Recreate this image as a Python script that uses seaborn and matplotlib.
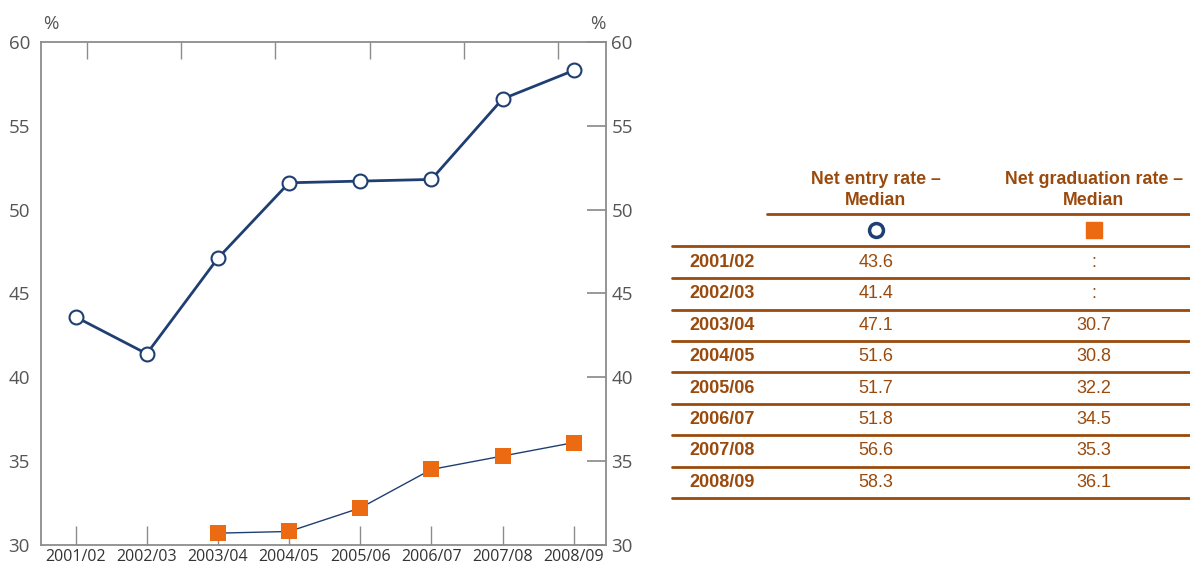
import numpy as np
import pandas as pd
import seaborn as sns
from matplotlib import pyplot as plt

years = ['2001/02', '2002/03', '2003/04', '2004/05', '2005/06', '2006/07', '2007/08', '2008/09']
entry = [43.6, 41.4, 47.1, 51.6, 51.7, 51.8, 56.6, 58.3]
graduation = [np.nan, np.nan, 30.7, 30.8, 32.2, 34.5, 35.3, 36.1]
col_titles = ['Net entry rate –\nMedian', 'Net graduation rate –\nMedian']

navy = '#1f3f73'
orange = '#ec6a12'
brown = '#9a4a0c'
grey = '#555555'
spine = '#8c8c8c'

sns.set_theme(style='white')
plt.rcParams['font.family'] = ['Open Sans', 'DejaVu Sans']

df = pd.DataFrame({'pos': np.arange(len(years)), 'year': years,
                   'entry': entry, 'graduation': graduation})

fig = plt.figure(figsize=(11.9, 5.67), dpi=100)
ax = fig.add_axes([0.0345, 0.039, 0.4745, 0.887])

sns.lineplot(data=df, x='pos', y='entry', ax=ax, color=navy, linewidth=2,
             marker='o', markersize=10, markerfacecolor='white',
             markeredgecolor=navy, markeredgewidth=1.5)
sns.lineplot(data=df.dropna(), x='pos', y='graduation', ax=ax, color=navy, linewidth=1,
             marker='s', markersize=11, markerfacecolor=orange,
             markeredgecolor=orange, markeredgewidth=0)

ax.set_xlim(-0.485, 7.45)
ax.set_ylim(30, 60)
ax.set_xticks(df['pos'])
ax.set_xticklabels(years, fontsize=11.5, color='#333333')
ax.set_yticks([30, 35, 40, 45, 50, 55, 60])
ax.tick_params(axis='y', labelsize=13.5, colors=grey, length=0, pad=8)
ax.tick_params(axis='x', direction='in', length=14, color=spine, width=1, pad=3)
for lab in ax.get_yticklabels():
    lab.set_color(grey)
ax.set_xlabel('')
ax.set_ylabel('')
for s in ax.spines.values():
    s.set_color(spine)
    s.set_linewidth(1.3)

# right-hand axis
ax2 = ax.twinx()
ax2.set_ylim(30, 60)
ax2.set_yticks([30, 35, 40, 45, 50, 55, 60])
ax2.tick_params(axis='y', direction='in', length=14, color=spine, labelsize=13.5,
                labelcolor=grey, pad=4)
for s in ax2.spines.values():
    s.set_visible(False)

# top ticks
ax3 = ax.twiny()
ax3.set_xlim(0, 1)
ax3.set_xticks(np.linspace(0.082, 0.915, 6))
ax3.set_xticklabels([])
ax3.tick_params(axis='x', direction='in', length=12, color=spine, width=1)
for s in ax3.spines.values():
    s.set_visible(False)

fig.text(0.036, 0.948, '%', fontsize=13.5, color=grey)
fig.text(0.496, 0.948, '%', fontsize=13.5, color=grey)

# table on the right
tb = fig.add_axes([0, 0, 1, 1])
tb.set_xlim(0, 1190)
tb.set_ylim(567, 0)
tb.axis('off')
tfont = ['Liberation Sans Narrow', 'Liberation Sans', 'DejaVu Sans']
col_x = [876, 1094]
for cx, t in zip(col_x, col_titles):
    tb.text(cx, 190, t, ha='center', va='center', fontsize=12.8, fontweight='bold',
            color=brown, family=tfont, linespacing=1.25)
tb.plot([767, 1190], [214, 214], color=brown, lw=2)
tb.plot(col_x[0], 230, marker='o', markersize=10, markerfacecolor='white',
        markeredgecolor=navy, markeredgewidth=2.5)
tb.plot(col_x[1], 230, marker='s', markersize=11, color=orange)
tb.plot([672, 1190], [246, 246], color=brown, lw=2)
row_h = 31.4
for i, (yr, e, g) in enumerate(zip(years, entry, graduation)):
    y = 262.5 + i * row_h
    tb.text(689, y, yr, ha='left', va='center', fontsize=13, fontweight='bold',
            color=brown, family=tfont)
    tb.text(col_x[0], y, f'{e:.1f}', ha='center', va='center', fontsize=13,
            color=brown, family=tfont)
    tb.text(col_x[1], y, ':' if np.isnan(g) else f'{g:.1f}', ha='center', va='center',
            fontsize=13, color=brown, family=tfont)
    tb.plot([672, 1190], [y + 15.7, y + 15.7], color=brown, lw=2)

fig.savefig('out.png', dpi=100)
